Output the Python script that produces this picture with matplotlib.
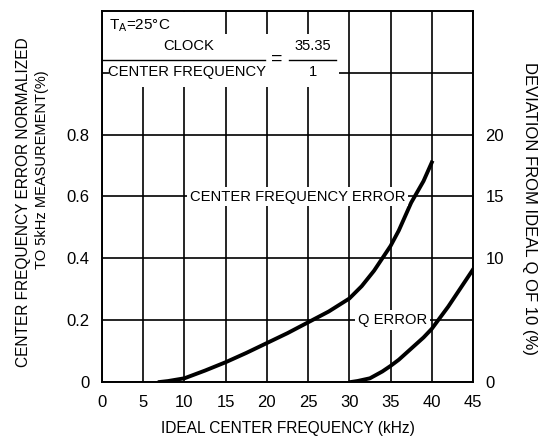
import matplotlib
matplotlib.use("Agg")
import matplotlib.pyplot as plt
from matplotlib.patches import Rectangle

plt.rcParams['font.family'] = ['Liberation Sans', 'DejaVu Sans']
plt.rcParams['mathtext.fontset'] = 'custom'
plt.rcParams['mathtext.rm'] = 'Liberation Sans'

# center frequency error (left axis, %)
cfe_freq = [7, 8, 10, 12.5, 15, 17.5, 20, 22.5, 25, 27.5, 30, 31.5, 33, 34, 35, 36, 37.5, 39, 40]
cfe_err = [0, 0.003, 0.012, 0.037, 0.064, 0.094, 0.126, 0.158, 0.193, 0.228, 0.27,
           0.31, 0.36, 0.40, 0.44, 0.49, 0.58, 0.65, 0.71]

# Q error (right axis, % deviation from ideal Q of 10)
q_freq = [30.2, 31, 32.5, 34, 35, 36, 37.5, 39, 40, 41, 42, 43, 44, 45]
q_err = [0, 0.08, 0.3, 0.85, 1.3, 1.8, 2.7, 3.6, 4.3, 5.2, 6.1, 7.1, 8.1, 9.1]

x_ticks = [0, 5, 10, 15, 20, 25, 30, 35, 40, 45]
left_ticks = [0, 0.2, 0.4, 0.6, 0.8]
left_labels = ['0', '0.2', '0.4', '0.6', '0.8']
right_ticks = [0, 10, 15, 20]

fig = plt.figure(figsize=(5.4, 4.36), dpi=100)
ax = fig.add_axes([102 / 540, 1 - 382 / 436, 371 / 540, 371 / 436])
ax.set_xlim(0, 45)
ax.set_ylim(0, 1.2)
ax.set_xticks(x_ticks)
ax.set_yticks(left_ticks + [1.0])
ax.set_yticklabels(left_labels + [''])
ax.tick_params(length=0, labelsize=12, pad=9)
ax.set_axisbelow(True)
ax.grid(True, color='black', lw=1.2)
for s in ax.spines.values():
    s.set_linewidth(1.4)

# white areas behind the condition text (axes fractions)
ax.add_patch(Rectangle((0.02, 0.796), 0.62, 0.142, transform=ax.transAxes,
                       facecolor='white', edgecolor='none', zorder=1))
ax.add_patch(Rectangle((0.004, 0.917), 0.235, 0.08, transform=ax.transAxes,
                       facecolor='white', edgecolor='none', zorder=1))

ax.plot(cfe_freq, cfe_err, color='black', lw=2.8, zorder=3)

ax2 = ax.twinx()
ax2.set_ylim(0, 30)
ax2.set_yticks(right_ticks)
ax2.tick_params(length=0, labelsize=12, pad=9)
ax2.plot(q_freq, q_err, color='black', lw=2.8, zorder=3)
for s in ax2.spines.values():
    s.set_visible(False)

ax.text(23.7, 0.6, 'CENTER FREQUENCY ERROR', fontsize=10.6, ha='center', va='center',
        zorder=4, bbox=dict(facecolor='white', edgecolor='none', pad=2))
ax.text(35.2, 0.2, 'Q ERROR', fontsize=10.6, ha='center', va='center',
        zorder=4, bbox=dict(facecolor='white', edgecolor='none', pad=2))

ax.text(0.02, 0.96, r'T$_\mathrm{A}$=25°C', transform=ax.transAxes, fontsize=11,
        ha='left', va='center', zorder=4)
ax.text(0.233, 0.906, 'CLOCK', transform=ax.transAxes, fontsize=10.6,
        ha='center', va='center', zorder=4)
ax.text(0.229, 0.836, 'CENTER FREQUENCY', transform=ax.transAxes, fontsize=10.6,
        ha='center', va='center', zorder=4)
ax.plot([0.0, 0.44], [0.869, 0.869], transform=ax.transAxes, color='black', lw=1.0,
        zorder=4, clip_on=False)
ax.text(0.472, 0.869, '=', transform=ax.transAxes, fontsize=14,
        ha='center', va='center', zorder=4)
ax.text(0.568, 0.906, '35.35', transform=ax.transAxes, fontsize=10.6,
        ha='center', va='center', zorder=4)
ax.text(0.568, 0.836, '1', transform=ax.transAxes, fontsize=10.6,
        ha='center', va='center', zorder=4)
ax.plot([0.505, 0.632], [0.869, 0.869], transform=ax.transAxes, color='black', lw=1.0,
        zorder=4, clip_on=False)

ax.set_xlabel('IDEAL CENTER FREQUENCY (kHz)', fontsize=11.2, labelpad=8)
fig.text(24 / 540, 1 - 202 / 436, 'CENTER FREQUENCY ERROR NORMALIZED', rotation=90,
         fontsize=11.2, ha='center', va='center')
fig.text(42 / 540, 1 - 170 / 436, 'TO 5kHz MEASUREMENT(%)', rotation=90,
         fontsize=10.5, ha='center', va='center')
fig.text(529 / 540, 1 - 209 / 436, 'DEVIATION FROM IDEAL Q OF 10 (%)', rotation=270,
         fontsize=12, ha='center', va='center')

fig.savefig('out.png', dpi=100)
